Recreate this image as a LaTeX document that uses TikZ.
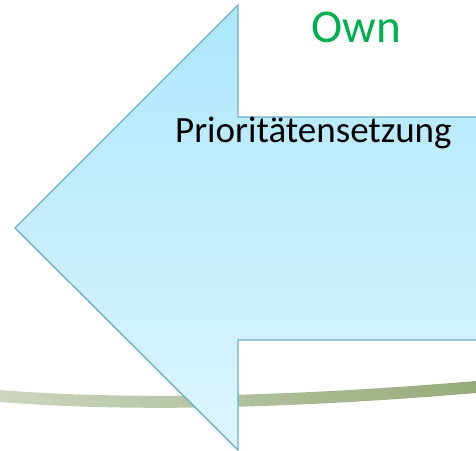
\documentclass[tikz,border=0pt]{standalone}
\usepackage{fontspec}
\setmainfont{Carlito}
\definecolor{arrowline}{HTML}{6FAFCB}
\definecolor{arrowtop}{HTML}{ADE7FC}
\definecolor{arrowbot}{HTML}{DDF5FD}
\definecolor{arcleft}{HTML}{CCD6BF}
\definecolor{arcright}{HTML}{97AB7A}
\definecolor{owngreen}{HTML}{00B050}
\begin{document}
\begin{tikzpicture}[x=1pt,y=-1pt, line join=miter]
            \def\tx{15} \def\ty{228} \def\nx{238}
            \def\st{117} \def\sb{340} \def\pt{5} \def\pb{450}
            \useasboundingbox (0,0) rectangle (476,450);
            \clip (0,0) rectangle (476,450);
            \shade[left color=arcleft, right color=arcright]
                (0,390) .. controls (100,398) and (250,400) .. (476,381)
                -- (476,393) .. controls (250,412) and (100,410) .. (0,402) -- cycle;
            \shade[top color=arrowtop, bottom color=arrowbot]
                (\tx,\ty) -- (\nx,\pt) -- (\nx,\st) -- (490,\st) -- (490,\sb)
                -- (\nx,\sb) -- (\nx,\pb) -- cycle;
            \draw[arrowline, line width=1.4pt]
                (490,\st) -- (\nx,\st) -- (\nx,\pt) -- (\tx,\ty) -- (\nx,\pb)
                -- (\nx,\sb) -- (490,\sb);
            \node (own) at (356,42) [anchor=base, inner sep=0pt, text=owngreen]
                {\fontsize{47}{50}\selectfont Own};
            \node (prio) at (175,142) [anchor=base west, inner sep=0pt]
                {\fontsize{37}{40}\selectfont Prioritätensetzung};
        \end{tikzpicture}
\end{document}
